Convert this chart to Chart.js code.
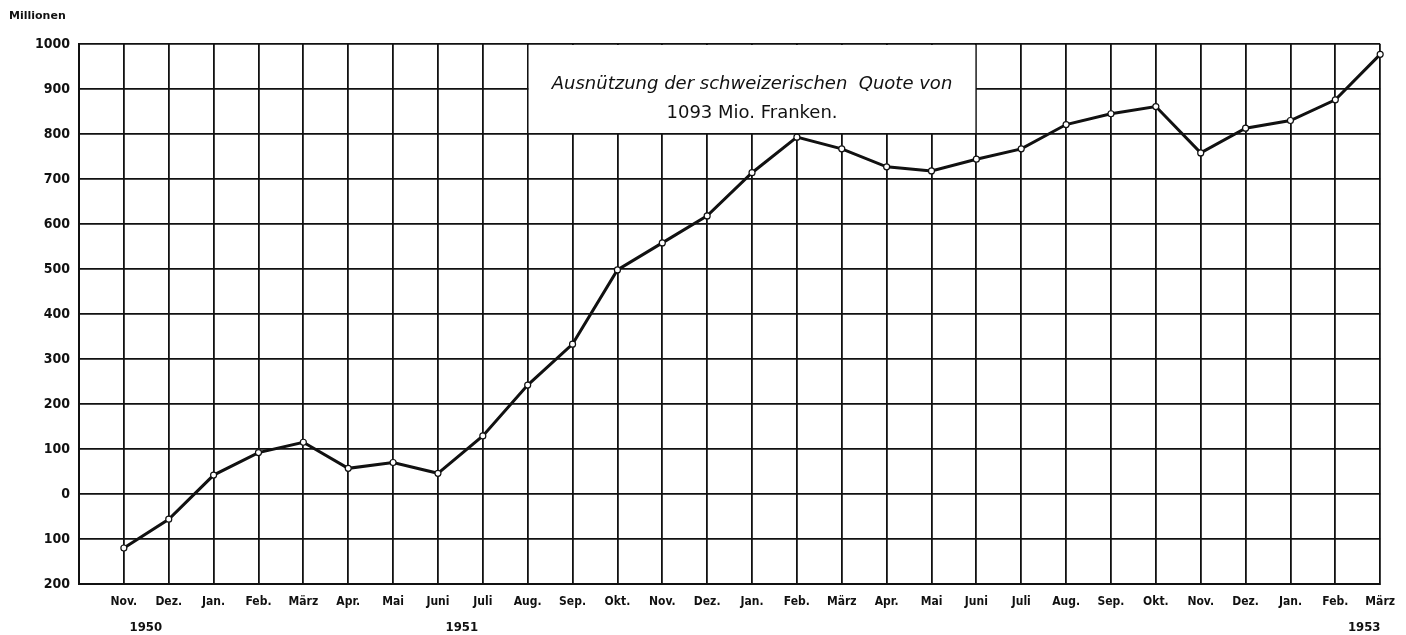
<!DOCTYPE html>
<html lang="de">
<head>
<meta charset="UTF-8">
<title>Ausnützung der schweizerischen Quote</title>
<script src="https://cdn.jsdelivr.net/npm/chart.js"></script>
<style>
  html, body { margin: 0; padding: 0; background: #fff; }
  #wrap { width: 1406px; height: 635px; }
</style>
</head>
<body>
<div id="wrap"><canvas id="grafik"></canvas></div>
<script>
// Monate (Nov. 1950 bis März 1953)
const monate = ['Nov.', 'Dez.', 'Jan.', 'Feb.', 'März', 'Apr.', 'Mai', 'Juni', 'Juli',
  'Aug.', 'Sep.', 'Okt.', 'Nov.', 'Dez.', 'Jan.', 'Feb.', 'März', 'Apr.', 'Mai', 'Juni', 'Juli',
  'Aug.', 'Sep.', 'Okt.', 'Nov.', 'Dez.', 'Jan.', 'Feb.', 'März'];
// Jahreszahlen unter den Monaten (Index in monate)
const jahre = [['1950', 0], ['1951', 8], ['1953', 28]];
// Ausnützung in Mio. Franken
const werte = [-120, -56, 42, 92, 115, 57, 70, 46, 129,
  242, 333, 498, 558, 618, 714, 793, 767, 727, 718, 744, 767,
  821, 845, 861, 758, 813, 830, 876, 977];
const yTicks = [-200, -100, 0, 100, 200, 300, 400, 500, 600, 700, 800, 900, 1000];
const titelZeilen = ['Ausnützung der schweizerischen  Quote von', '1093 Mio. Franken.'];

// eine leere Kategorie links, damit der linke Rand eine Spalte vor Nov. liegt
const labels = [''].concat(monate);
const daten = [null].concat(werte);

// weisser Kasten mit Beschriftung, Jahreszahlen, "Millionen"
const beschriftung = {
  id: 'beschriftung',
  beforeDatasetsDraw(chart) {
    const ctx = chart.ctx;
    const x = chart.scales.x;
    const y = chart.scales.y;
    const links = x.getPixelForValue(10);   // Aug. 1951
    const rechts = x.getPixelForValue(20);  // Juni 1952
    const oben = y.getPixelForValue(1000);
    const unten = y.getPixelForValue(800);
    ctx.save();
    ctx.fillStyle = '#fff';
    ctx.fillRect(links + 1, oben + 1, rechts - links - 2, unten - oben - 2);
    ctx.fillStyle = '#111';
    ctx.textAlign = 'center';
    ctx.textBaseline = 'middle';
    const mitte = (links + rechts) / 2;
    ctx.font = 'italic 18px "DejaVu Sans", sans-serif';
    ctx.fillText(titelZeilen[0], mitte, oben + 40);
    ctx.font = '18px "DejaVu Sans", sans-serif';
    ctx.fillText(titelZeilen[1], mitte, oben + 69);
    ctx.restore();
  },
  afterDraw(chart) {
    const ctx = chart.ctx;
    const x = chart.scales.x;
    ctx.save();
    ctx.fillStyle = '#111';
    ctx.textBaseline = 'middle';
    ctx.font = 'bold 11px "DejaVu Sans", sans-serif';
    ctx.textAlign = 'left';
    ctx.fillText('Millionen', 9, 16);
    ctx.font = 'bold 13px "DejaVu Sans Condensed", sans-serif';
    ctx.textAlign = 'center';
    const versatz = [22, -21, -16];
    jahre.forEach(([j, i], k) => {
      ctx.fillText(j, x.getPixelForValue(i + 1) + versatz[k], 628);
    });
    ctx.restore();
  }
};

new Chart(document.getElementById('grafik'), {
  type: 'line',
  data: {
    labels: labels,
    datasets: [{
      data: daten,
      borderColor: '#111',
      borderWidth: 3,
      pointRadius: 3,
      pointBackgroundColor: '#fff',
      pointBorderColor: '#111',
      pointBorderWidth: 1.2,
      tension: 0,
      spanGaps: false
    }]
  },
  options: {
    responsive: true,
    maintainAspectRatio: false,
    animation: false,
    layout: { padding: { left: 0, right: 25, top: 44, bottom: 0 } },
    plugins: { legend: { display: false }, tooltip: { enabled: false } },
    scales: {
      x: {
        offset: false,
        grid: { color: '#111', lineWidth: 1.8, drawTicks: false },
        border: { color: '#111', width: 2 },
        ticks: {
          color: '#111',
          autoSkip: false,
          maxRotation: 0,
          padding: 11,
          font: { family: '"DejaVu Sans Condensed", sans-serif', size: 12, weight: 'bold' }
        },
        afterFit(scale) { scale.height = 51; }
      },
      y: {
        min: -200,
        max: 1000,
        afterBuildTicks(scale) { scale.ticks = yTicks.map(v => ({ value: v })); },
        grid: { color: '#111', lineWidth: 1.8, drawTicks: false },
        border: { color: '#111', width: 2 },
        ticks: {
          color: '#111',
          padding: 9,
          font: { family: '"DejaVu Sans Condensed", sans-serif', size: 14, weight: 'bold' },
          callback: v => String(Math.abs(v))
        },
        afterFit(scale) { scale.width = 79; }
      }
    }
  },
  plugins: [beschriftung]
});
</script>
</body>
</html>
